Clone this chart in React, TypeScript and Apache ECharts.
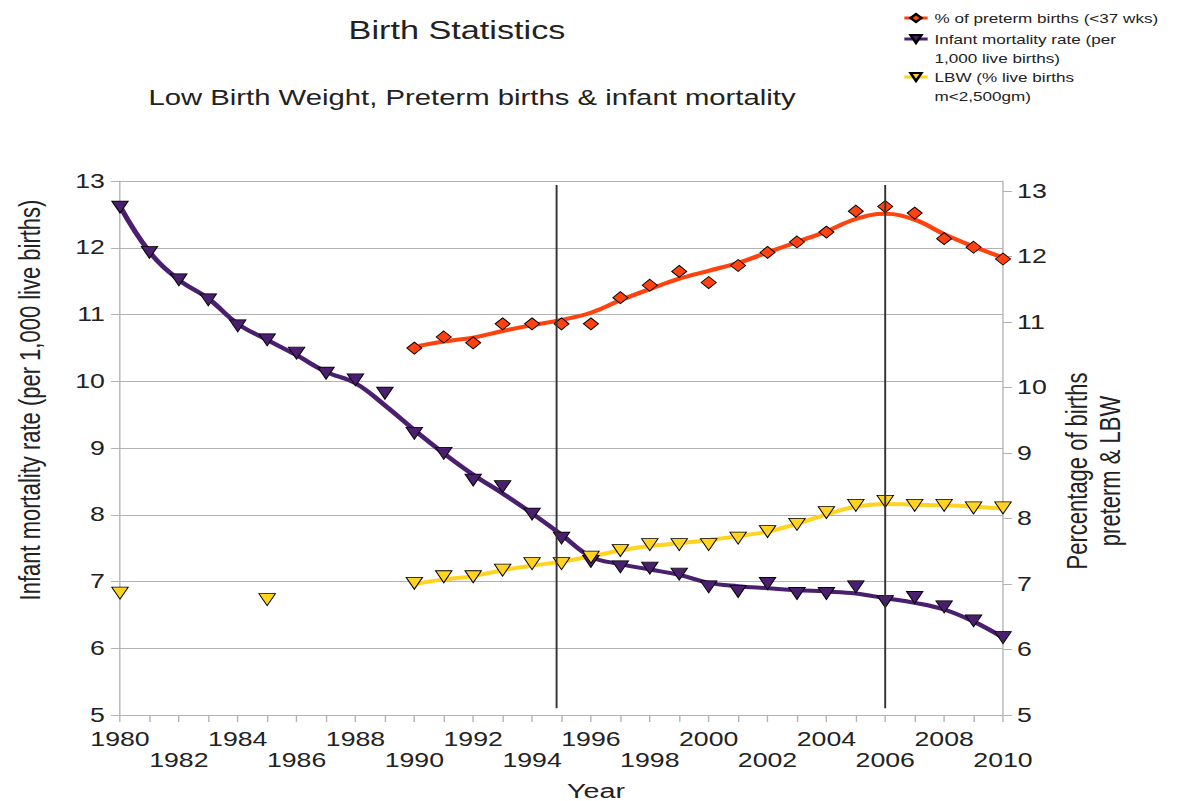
import React, { useEffect, useRef } from "react";
import * as echarts from "echarts";

// ---- data ----
const years = [1980, 1981, 1982, 1983, 1984, 1985, 1986, 1987, 1988, 1989, 1990, 1991, 1992, 1993, 1994, 1995, 1996, 1997, 1998, 1999, 2000, 2001, 2002, 2003, 2004, 2005, 2006, 2007, 2008, 2009, 2010];
const infantValues = [12.61, 11.93, 11.52, 11.22, 10.83, 10.62, 10.42, 10.12, 10.02, 9.82, 9.22, 8.92, 8.52, 8.42, 8.01, 7.65, 7.3, 7.22, 7.2, 7.11, 6.92, 6.85, 6.97, 6.82, 6.82, 6.92, 6.7, 6.76, 6.62, 6.41, 6.16];
const infantTrend = [12.62, 11.94, 11.52, 11.24, 10.86, 10.62, 10.39, 10.14, 9.97, 9.64, 9.27, 8.92, 8.6, 8.32, 8.02, 7.7, 7.37, 7.26, 7.18, 7.1, 6.98, 6.93, 6.9, 6.87, 6.85, 6.82, 6.75, 6.68, 6.58, 6.4, 6.16];

const pretermYears = [1990, 1991, 1992, 1993, 1994, 1995, 1996, 1997, 1998, 1999, 2000, 2001, 2002, 2003, 2004, 2005, 2006, 2007, 2008, 2009, 2010];
const pretermValues = [10.6, 10.77, 10.68, 10.97, 10.97, 10.97, 10.97, 11.37, 11.56, 11.77, 11.6, 11.86, 12.06, 12.22, 12.37, 12.69, 12.76, 12.66, 12.27, 12.14, 11.96];
const pretermTrend = [10.62, 10.7, 10.76, 10.86, 10.95, 11.03, 11.14, 11.33, 11.5, 11.66, 11.78, 11.9, 12.06, 12.22, 12.38, 12.57, 12.65, 12.56, 12.34, 12.15, 11.98];

const lbwYears = [1980, 1985, 1990, 1991, 1992, 1993, 1994, 1995, 1996, 1997, 1998, 1999, 2000, 2001, 2002, 2003, 2004, 2005, 2006, 2007, 2008, 2009, 2010];
const lbwValues = [6.86, 6.76, 7.01, 7.11, 7.11, 7.21, 7.31, 7.31, 7.41, 7.51, 7.6, 7.6, 7.6, 7.7, 7.8, 7.91, 8.09, 8.2, 8.26, 8.2, 8.2, 8.16, 8.16];
const lbwTrendYears = [1990, 1991, 1992, 1993, 1994, 1995, 1996, 1997, 1998, 1999, 2000, 2001, 2002, 2003, 2004, 2005, 2006, 2007, 2008, 2009, 2010];
const lbwTrend = [7.0, 7.07, 7.12, 7.21, 7.28, 7.34, 7.42, 7.51, 7.58, 7.62, 7.67, 7.73, 7.8, 7.92, 8.06, 8.18, 8.22, 8.21, 8.2, 8.18, 8.15];

const rightTicks = [5, 6, 7, 8, 9, 10, 11, 12, 13];
const refLineYears = [1994.8, 2006];
const refLineTop = 12.94;
const refLineBottom = 5.1;

const NAME_PRETERM = "% of preterm births (<37 wks)";
const NAME_INFANT = "Infant mortality rate (per 1,000 live births)";
const NAME_LBW = "LBW (% live births m<2,500gm)";

const C_PRETERM = "#ff420e";
const C_INFANT = "#4b1f6f";
const C_LBW = "#ffd320";

// ---- layout (drawn in a narrower canvas, then stretched horizontally) ----
const W = 864;
const H = 801;
const SX = 1183 / W;
const FONT = "'Liberation Sans', Arial, sans-serif";
const TXT = "#222";

const pair = (xs: number[], ys: number[]) => xs.map((x, i) => [x, ys[i]]);

export default function App() {
  const ref = useRef<HTMLDivElement>(null);
  useEffect(() => {
    document.body.style.margin = "0";
    const chart = echarts.init(ref.current!, null, { renderer: "svg", width: W, height: H });
    const gridLeft = 120 / SX;
    const gridRightX = 1003 / SX;

    const markerBorder = { borderColor: "#000", borderWidth: 0.8 };
    const legendBase = {
      orient: "vertical",
      left: 659,
      padding: 0,
      itemWidth: 17,
      itemHeight: 10,
      itemGap: 0,
      selectedMode: false,
      lineStyle: { width: 3 },
      textStyle: { fontSize: 12.5, lineHeight: 19.5, color: TXT, fontFamily: FONT },
    };

    const option: any = {
      animation: false,
      backgroundColor: "#fff",
      grid: { left: gridLeft, right: W - gridRightX, top: 181, bottom: 86, containLabel: false },
      legend: [
        { ...legendBase, top: 8.25, data: [NAME_PRETERM] },
        {
          ...legendBase,
          top: 9.75,
          data: [NAME_INFANT],
          formatter: (n: string) => "\n" + n.replace(" 1,000", "\n1,000"),
        },
        {
          ...legendBase,
          top: 47.75,
          data: [NAME_LBW],
          formatter: (n: string) => "\n" + n.replace(" m<", "\nm<"),
        },
      ],
      xAxis: {
        type: "value",
        min: 1980,
        max: 2010,
        interval: 1,
        axisLine: { show: true, lineStyle: { color: "#b3b3b3", width: 1 } },
        axisTick: { show: true, length: 7, lineStyle: { color: "#b3b3b3" } },
        splitLine: { show: false },
        axisLabel: {
          fontSize: 19.5,
          lineHeight: 21,
          margin: 13.5,
          color: TXT,
          fontFamily: FONT,
          formatter: (v: number) => (v % 4 === 0 ? String(v) : v % 2 === 0 ? "\n" + v : ""),
        },
      },
      yAxis: [
        {
          type: "value",
          position: "left",
          min: 5,
          max: 13,
          interval: 1,
          axisLine: { show: true, lineStyle: { color: "#b3b3b3" } },
          axisTick: { show: true, length: 6.6, lineStyle: { color: "#b3b3b3" } },
          splitLine: { show: true, lineStyle: { color: "#b3b3b3", width: 1 } },
          axisLabel: { fontSize: 19.5, margin: 11, color: TXT, fontFamily: FONT },
        },
        {
          type: "value",
          position: "right",
          min: 5,
          max: 13.15,
          interval: 1,
          axisLine: { show: true, lineStyle: { color: "#b3b3b3" } },
          axisTick: { show: true, length: 6.6, lineStyle: { color: "#b3b3b3" }, customValues: rightTicks },
          splitLine: { show: false },
          axisLabel: {
            fontSize: 19.5,
            margin: 10.3,
            color: TXT,
            fontFamily: FONT,
            customValues: rightTicks,
            formatter: (v: number) => (Number.isInteger(v) ? String(v) : ""),
          },
        },
      ],
      series: [
        {
          name: NAME_PRETERM,
          type: "line",
          yAxisIndex: 1,
          data: pair(pretermYears, pretermTrend),
          smooth: 0.4,
          showSymbol: false,
          symbol: "diamond",
          symbolSize: [11, 12],
          lineStyle: { color: C_PRETERM, width: 4 },
          itemStyle: { color: C_PRETERM, ...markerBorder },
          z: 2,
        },
        {
          name: NAME_INFANT,
          type: "line",
          yAxisIndex: 0,
          data: pair(years, infantTrend),
          smooth: 0.4,
          showSymbol: false,
          symbol: "triangle",
          symbolRotate: 180,
          symbolSize: 12,
          lineStyle: { color: C_INFANT, width: 4 },
          itemStyle: { color: C_INFANT, ...markerBorder },
          z: 2,
          markLine: {
            silent: true,
            symbol: ["none", "none"],
            label: { show: false },
            lineStyle: { color: "#333", width: 1.4, type: "solid" },
            data: refLineYears.map((x) => [{ coord: [x, refLineTop] }, { coord: [x, refLineBottom] }]),
          },
        },
        {
          name: NAME_LBW,
          type: "line",
          yAxisIndex: 1,
          data: pair(lbwTrendYears, lbwTrend),
          smooth: 0.4,
          showSymbol: false,
          symbol: "triangle",
          symbolRotate: 180,
          symbolSize: 12,
          lineStyle: { color: C_LBW, width: 4 },
          itemStyle: { color: C_LBW, ...markerBorder },
          z: 2,
        },
        {
          name: "preterm points",
          type: "scatter",
          yAxisIndex: 1,
          data: pair(pretermYears, pretermValues),
          symbol: "diamond",
          symbolSize: [11, 12],
          itemStyle: { color: C_PRETERM, ...markerBorder, opacity: 1 },
          z: 4,
        },
        {
          name: "infant points",
          type: "scatter",
          yAxisIndex: 0,
          data: pair(years, infantValues),
          symbol: "triangle",
          symbolRotate: 180,
          symbolSize: 12,
          itemStyle: { color: C_INFANT, ...markerBorder, opacity: 1 },
          z: 4,
        },
        {
          name: "lbw points",
          type: "scatter",
          yAxisIndex: 1,
          data: pair(lbwYears, lbwValues),
          symbol: "triangle",
          symbolRotate: 180,
          symbolSize: 12,
          itemStyle: { color: C_LBW, ...markerBorder, opacity: 1 },
          z: 4,
        },
      ],
      graphic: [
        {
          type: "text",
          x: 457 / SX,
          y: 30,
          style: { text: "Birth Statistics", fontSize: 25, fontFamily: FONT, fill: TXT, align: "center", verticalAlign: "middle" },
        },
        {
          type: "text",
          x: 472 / SX,
          y: 97,
          style: {
            text: "Low Birth Weight, Preterm births & infant mortality",
            fontSize: 21.4,
            fontFamily: FONT,
            fill: TXT,
            align: "center",
            verticalAlign: "middle",
          },
        },
        {
          type: "text",
          x: 30 / SX,
          y: 400,
          rotation: Math.PI / 2,
          style: {
            text: "Infant mortality rate (per 1,000 live births)",
            fontSize: 22,
            fontFamily: FONT,
            fill: TXT,
            align: "center",
            verticalAlign: "middle",
          },
        },
        {
          type: "text",
          x: 1093 / SX,
          y: 471,
          rotation: Math.PI / 2,
          style: {
            text: "Percentage of births\npreterm & LBW",
            fontSize: 22,
            lineHeight: 24.5,
            fontFamily: FONT,
            fill: TXT,
            align: "center",
            verticalAlign: "middle",
          },
        },
        {
          type: "text",
          x: 596 / SX,
          y: 790,
          style: { text: "Year", fontSize: 21, fontFamily: FONT, fill: TXT, align: "center", verticalAlign: "middle" },
        },
      ],
    };
    chart.setOption(option);
    return () => chart.dispose();
  }, []);

  return (
    <div
      ref={ref}
      style={{ width: W + "px", height: H + "px", transform: `scaleX(${SX})`, transformOrigin: "0 0" }}
    />
  );
}
